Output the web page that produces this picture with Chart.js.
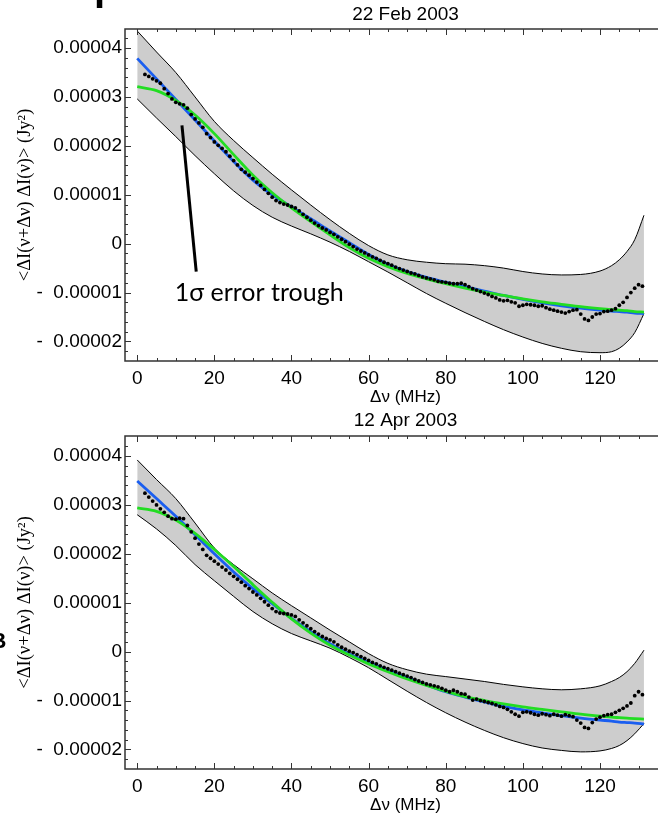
<!DOCTYPE html>
<html>
<head>
<meta charset="utf-8">
<script src="https://cdn.jsdelivr.net/npm/chart.js@4.4.1/dist/chart.umd.min.js"></script>
<style>
html, body { margin: 0; padding: 0; background: #fff; overflow: hidden; }
#wrap { width: 658px; height: 816px; overflow: hidden; }
canvas { display: block; }
</style>
</head>
<body>
<div id="wrap">
<canvas id="feb" width="690" height="408"></canvas>
<canvas id="apr" width="690" height="408"></canvas>
</div>
<script>
// values are in units of 1e-5 Jy^2
const SCALE = 1e-5;

// lag axis of the measured points (MHz)
const lagMHz = [2,3,4,5,6,7,8,9,10,11,12,13,14,15,16,17,18,19,20,21,22,23,24,25,26,27,28,29,30,31,
  32,33,34,35,36,37,38,39,40,41,42,43,44,45,46,47,48,49,50,51,52,53,54,55,56,57,58,59,60,61,
  62,63,64,65,66,67,68,69,70,71,72,73,74,75,76,77,78,79,80,81,82,83,84,85,86,87,88,89,90,91,
  92,93,94,95,96,97,98,99,100,101,102,103,104,105,106,107,108,109,110,111,112,113,114,115,116,117,118,119,120,121,
  122,123,124,125,126,127,128,129,130,131];

// 22 Feb 2003 measured correlation
const febPoints = [3.46,3.42,3.37,3.33,3.28,3.17,3.07,2.96,2.89,2.86,
  2.84,2.77,2.64,2.55,2.47,2.38,2.25,2.17,2.08,2.01,
  1.95,1.88,1.79,1.70,1.61,1.52,1.46,1.40,1.33,1.26,
  1.19,1.11,1.03,0.95,0.88,0.84,0.81,0.79,0.76,0.73,
  0.67,0.60,0.54,0.48,0.42,0.37,0.32,0.28,0.23,0.19,
  0.14,0.09,0.04,-0.01,-0.06,-0.11,-0.15,-0.19,-0.23,-0.27,
  -0.30,-0.34,-0.38,-0.41,-0.44,-0.48,-0.51,-0.54,-0.57,-0.60,
  -0.62,-0.65,-0.68,-0.70,-0.72,-0.74,-0.77,-0.78,-0.79,-0.81,
  -0.82,-0.82,-0.81,-0.84,-0.88,-0.92,-0.95,-0.98,-1.01,-1.04,
  -1.08,-1.11,-1.15,-1.17,-1.16,-1.19,-1.21,-1.28,-1.26,-1.24,
  -1.25,-1.26,-1.28,-1.27,-1.31,-1.34,-1.36,-1.38,-1.40,-1.42,
  -1.39,-1.36,-1.35,-1.44,-1.54,-1.57,-1.50,-1.44,-1.43,-1.39,
  -1.38,-1.36,-1.33,-1.26,-1.20,-1.10,-1.00,-0.91,-0.84,-0.87];

// 12 Apr 2003 measured correlation
const aprPoints = [3.24,3.16,3.08,3.00,2.92,2.85,2.77,2.72,2.71,2.73,
  2.72,2.58,2.45,2.32,2.20,2.09,1.97,1.91,1.85,1.79,
  1.73,1.67,1.60,1.54,1.48,1.42,1.35,1.29,1.22,1.16,
  1.09,1.02,0.95,0.88,0.82,0.79,0.78,0.77,0.75,0.72,
  0.65,0.59,0.53,0.47,0.41,0.36,0.31,0.27,0.24,0.20,
  0.14,0.09,0.05,0.01,-0.02,-0.06,-0.10,-0.14,-0.18,-0.22,
  -0.25,-0.29,-0.32,-0.35,-0.38,-0.41,-0.44,-0.47,-0.50,-0.53,
  -0.57,-0.60,-0.63,-0.66,-0.68,-0.70,-0.72,-0.75,-0.79,-0.82,
  -0.79,-0.82,-0.86,-0.87,-0.93,-0.99,-0.97,-1.00,-1.02,-1.04,
  -1.06,-1.09,-1.12,-1.14,-1.18,-1.23,-1.28,-1.32,-1.24,-1.23,
  -1.25,-1.28,-1.30,-1.27,-1.29,-1.31,-1.28,-1.30,-1.32,-1.29,
  -1.31,-1.33,-1.40,-1.46,-1.55,-1.57,-1.45,-1.38,-1.34,-1.31,
  -1.29,-1.28,-1.24,-1.20,-1.16,-1.11,-1.05,-0.90,-0.82,-0.88];

// lag axis of the fitted curves and error trough (MHz)
const curveMHz = [0,5,10,15,20,25,30,35,40,45,50,55,60,65,70,75,80,85,90,95,100,105,110,115,120,123,125,127,129,131.4];

const febUpper = [4.35,3.92,3.50,3.00,2.50,2.11,1.76,1.42,1.10,0.79,0.49,0.21,-0.04,-0.23,-0.33,-0.38,-0.41,-0.42,-0.45,-0.50,-0.57,-0.62,-0.64,-0.63,-0.56,-0.45,-0.33,-0.16,0.08,0.58];
const febLower = [2.96,2.57,2.19,1.80,1.43,1.08,0.78,0.54,0.36,0.20,0.03,-0.16,-0.37,-0.58,-0.80,-1.02,-1.22,-1.41,-1.59,-1.76,-1.91,-2.04,-2.14,-2.21,-2.23,-2.21,-2.14,-2.01,-1.82,-1.43];
const febBlue = [3.79,3.37,2.95,2.53,2.10,1.68,1.30,1.00,0.75,0.51,0.26,0.02,-0.22,-0.42,-0.57,-0.69,-0.79,-0.88,-0.97,-1.06,-1.14,-1.21,-1.27,-1.32,-1.36,-1.38,-1.39,-1.40,-1.42,-1.43];
const febGreen = [3.21,3.13,2.93,2.63,2.25,1.82,1.40,1.04,0.73,0.45,0.18,-0.08,-0.30,-0.47,-0.61,-0.72,-0.82,-0.91,-0.99,-1.06,-1.13,-1.19,-1.24,-1.29,-1.33,-1.35,-1.36,-1.37,-1.39,-1.40];

const aprUpper = [3.92,3.52,3.13,2.63,2.12,1.78,1.49,1.20,0.94,0.69,0.44,0.20,-0.04,-0.24,-0.37,-0.46,-0.51,-0.56,-0.61,-0.67,-0.72,-0.76,-0.78,-0.76,-0.70,-0.61,-0.53,-0.41,-0.24,0.03];
const aprLower = [2.80,2.51,2.17,1.78,1.45,1.13,0.82,0.57,0.37,0.22,0.07,-0.12,-0.33,-0.57,-0.81,-1.04,-1.25,-1.44,-1.61,-1.76,-1.88,-1.97,-2.02,-2.05,-2.03,-1.98,-1.92,-1.82,-1.68,-1.47];
const aprBlue = [3.49,3.13,2.77,2.39,2.00,1.63,1.29,0.98,0.68,0.41,0.16,-0.05,-0.22,-0.38,-0.53,-0.68,-0.82,-0.93,-1.03,-1.12,-1.19,-1.25,-1.31,-1.36,-1.40,-1.42,-1.44,-1.45,-1.46,-1.48];
const aprGreen = [2.94,2.87,2.69,2.42,2.09,1.74,1.37,1.01,0.67,0.38,0.13,-0.07,-0.25,-0.41,-0.56,-0.69,-0.81,-0.92,-1.00,-1.07,-1.13,-1.18,-1.23,-1.28,-1.32,-1.34,-1.35,-1.36,-1.37,-1.38];

// pointer of the "1 sigma" note
const pointerMHz = [11.6, 15.3];
const pointerVal = [2.42, -0.57];

const xTickValues = [0, 20, 40, 60, 80, 100, 120];
const yTickValues = [-2, -1, 0, 1, 2, 3, 4];
const yTickLabels = ['-  0.00002', '-  0.00001', '0', '0.00001', '0.00002', '0.00003', '0.00004'];

Chart.defaults.font.family = 'Liberation Sans';
Chart.defaults.color = '#000';

function pts(xs, ys) {
	return xs.map((x, i) => ({ x: x, y: ys[i] * SCALE }));
}

// frame with inward ticks, like the original plot
const framePlugin = {
	id: 'frame',
	afterDraw(chart) {
		const { ctx, chartArea: a, scales: { x, y } } = chart;
		ctx.save();
		ctx.strokeStyle = '#333';
		ctx.lineWidth = 1.5;
		ctx.beginPath();
		ctx.moveTo(a.right, a.top);
		ctx.lineTo(a.left, a.top);
		ctx.lineTo(a.left, a.bottom);
		ctx.lineTo(a.right, a.bottom);
		ctx.stroke();
		ctx.lineWidth = 1;
		ctx.beginPath();
		for (let v = 0; v <= 140; v += 5) {
			const px = Math.round(x.getPixelForValue(v)) + 0.5;
			const len = v % 20 === 0 ? 6 : 3;
			ctx.moveTo(px, a.bottom);
			ctx.lineTo(px, a.bottom - len);
			ctx.moveTo(px, a.top);
			ctx.lineTo(px, a.top + len);
		}
		for (let k = -12; k <= 22; k++) {
			const py = Math.round(y.getPixelForValue(k * 0.2 * SCALE)) + 0.5;
			if (py < a.top + 2 || py > a.bottom - 2) continue;
			const len = k % 5 === 0 ? 6 : 3;
			ctx.moveTo(a.left, py);
			ctx.lineTo(a.left + len, py);
		}
		ctx.stroke();
		ctx.restore();
	}
};

// "1 sigma error trough" note on the first panel
const troughNote = {
	id: 'troughNote',
	afterDatasetsDraw(chart) {
		const { ctx, scales: { x, y } } = chart;
		ctx.save();
		ctx.font = '25px Lato';
		ctx.fillStyle = '#000';
		ctx.textBaseline = 'middle';
		ctx.fillText('1σ error trough', x.getPixelForValue(9.7), y.getPixelForValue(-1.0 * SCALE));
		ctx.restore();
	}
};

// pieces of the panel letters cut by the page edge
function edgeLetter(text, px, py, size) {
	return {
		id: 'edge' + text,
		afterDraw(chart) {
			const ctx = chart.ctx;
			ctx.save();
			ctx.font = 'bold ' + size + 'px Liberation Sans';
			ctx.fillStyle = '#000';
			ctx.textBaseline = 'alphabetic';
			ctx.fillText(text, px, py);
			ctx.restore();
		}
	};
}

function buildChart(id, cfg) {
	const datasets = [
		{ label: 'data', data: pts(lagMHz, cfg.points), showLine: false, pointRadius: 1.9,
			pointBackgroundColor: '#000', pointBorderColor: '#000', pointBorderWidth: 0 },
		{ label: 'green fit', data: pts(curveMHz, cfg.green), borderColor: '#22dd22', borderWidth: 2.8,
			pointRadius: 0, cubicInterpolationMode: 'monotone' },
		{ label: 'blue fit', data: pts(curveMHz, cfg.blue), borderColor: '#1a5ef0', borderWidth: 2.8,
			pointRadius: 0, cubicInterpolationMode: 'monotone' }
	];
	if (cfg.pointer) {
		datasets.push({ label: 'pointer', data: pts(pointerMHz, pointerVal), borderColor: '#000',
			borderWidth: 3, pointRadius: 0 });
	}
	datasets.push(
		{ label: 'upper', data: pts(curveMHz, cfg.upper), borderColor: '#000', borderWidth: 1,
			pointRadius: 0, cubicInterpolationMode: 'monotone' },
		{ label: 'lower', data: pts(curveMHz, cfg.lower), borderColor: '#000', borderWidth: 1,
			pointRadius: 0, cubicInterpolationMode: 'monotone', fill: '-1', backgroundColor: '#cdcdcd' }
	);

	return new Chart(document.getElementById(id), {
		type: 'line',
		data: { datasets: datasets },
		options: {
			responsive: false,
			animation: false,
			devicePixelRatio: 1,
			layout: { padding: 0 },
			plugins: {
				legend: { display: false },
				tooltip: { enabled: false },
				title: {
					display: true,
					text: cfg.title,
					fullSize: false,
					color: '#000',
					font: { size: 19, weight: 'normal' },
					padding: { top: cfg.titleTop, bottom: cfg.titleBottom }
				}
			},
			scales: {
				x: {
					type: 'linear',
					min: -3.17,
					max: 142.3,
					afterFit: (s) => { s.height = 47; },
					afterBuildTicks: (s) => { s.ticks = xTickValues.map(v => ({ value: v })); },
					grid: { display: false, drawTicks: false },
					border: { display: false },
					ticks: { autoSkip: false, maxRotation: 0, padding: 6, font: { size: 19 } },
					title: {
						display: true,
						text: 'Δν (MHz)',
						font: { size: 17 },
						padding: { top: 0, bottom: cfg.xTitleBottom }
					}
				},
				y: {
					type: 'linear',
					min: cfg.yMin * SCALE,
					max: cfg.yMax * SCALE,
					afterFit: (s) => { s.width = 125; },
					afterBuildTicks: (s) => { s.ticks = yTickValues.map(v => ({ value: v * SCALE })); },
					grid: { display: false, drawTicks: false },
					border: { display: false },
					ticks: { autoSkip: false, padding: 3, font: { size: 19 },
						callback: (v, i) => yTickLabels[i] },
					title: {
						display: true,
						text: '<ΔI(ν+Δν) ΔI(ν)> (Jy²)',
						font: { family: 'Liberation Serif', size: 18.5 },
						padding: { top: 14, bottom: 0 }
					}
				}
			}
		},
		plugins: cfg.plugins
	});
}

buildChart('feb', {
	title: '22 Feb 2003',
	points: febPoints, upper: febUpper, lower: febLower, blue: febBlue, green: febGreen,
	pointer: true,
	yMin: -2.40, yMax: 4.39,
	titleTop: 3.6, titleBottom: 2.6, xTitleBottom: 0,
	plugins: [framePlugin, troughNote, edgeLetter('p', 94, 0, 40)]
});

buildChart('apr', {
	title: '12 Apr 2003',
	points: aprPoints, upper: aprUpper, lower: aprLower, blue: aprBlue, green: aprGreen,
	pointer: false,
	yMin: -2.40, yMax: 4.41,
	titleTop: 1.6, titleBottom: 3.6, xTitleBottom: 0,
	plugins: [framePlugin, edgeLetter('B', -9.5, 240, 22)]
});
</script>
</body>
</html>
